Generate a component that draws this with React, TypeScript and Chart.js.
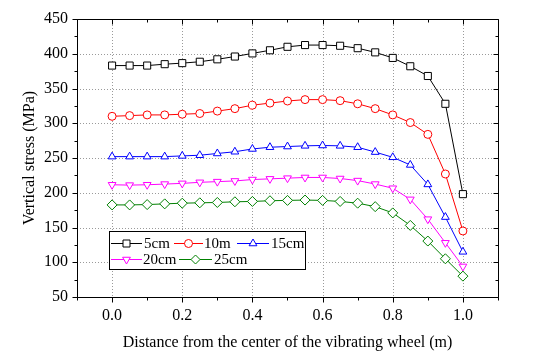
import React, { useEffect, useRef } from 'react';
import { Chart, registerables } from 'chart.js';
Chart.register(...registerables);

const xValues = [0, 0.05, 0.1, 0.15, 0.2, 0.25, 0.3, 0.35, 0.4, 0.45, 0.5, 0.55, 0.6, 0.65, 0.7, 0.75, 0.8, 0.85, 0.9, 0.95, 1.0];
const s5cm = [383, 383, 383, 385, 386.5, 388.5, 392, 396, 400.5, 405, 410, 412.5, 412.5, 411.5, 408, 402, 394, 382, 368, 328, 198];
const s10m = [310, 311, 312, 312, 313, 314, 317.5, 321, 326, 329, 332, 334, 334, 332.5, 328, 321, 312, 301, 284, 227, 145];
const s15cm = [252, 252, 252, 252, 253, 254, 256.5, 259, 263, 265.5, 266.5, 267.5, 268, 267.5, 265.5, 258.5, 251, 240, 212, 165, 115];
const s20cm = [211.5, 211, 211.5, 212.5, 213.5, 215, 216, 217, 219, 220, 221, 222, 222, 220.5, 217.5, 212.5, 206.5, 190.5, 162, 128, 94];
const s25cm = [182.5, 182.5, 183, 184, 185, 185.5, 186, 187, 187.5, 188.5, 189, 189.5, 189, 187.5, 185, 180, 171, 153, 130.5, 105, 80];
const seriesLabels = ['5cm', '10m', '15cm', '20cm', '25cm'];
const xTicks = [0, 0.2, 0.4, 0.6, 0.8, 1.0];
const xMinorTicks = [-0.1, 0.1, 0.3, 0.5, 0.7, 0.9, 1.1];
const yTicks = [50, 100, 150, 200, 250, 300, 350, 400, 450];
const yMinorTicks = [75, 125, 175, 225, 275, 325, 375, 425];
const xTitle = 'Distance from the center of the vibrating wheel (m)';
const yTitle = 'Vertical stress (MPa)';

const FONT = '"Liberation Serif", "Times New Roman", serif';
const colors = ['#000000', '#ff0000', '#0000ff', '#ff00ff', '#008000'];
const styles: any[] = ['rect', 'circle', 'triangle', 'triangle', 'rectRot'];
const rotations = [0, 0, 0, 180, 0];
const radii = [5, 4, 4.5, 4.5, 5];
const seriesData = [s5cm, s10m, s15cm, s20cm, s25cm];

function drawMarker(ctx: CanvasRenderingContext2D, kind: number, x: number, y: number, color: string) {
  ctx.save();
  ctx.strokeStyle = color;
  ctx.fillStyle = '#ffffff';
  ctx.lineWidth = 1;
  ctx.beginPath();
  if (kind === 0) {
    const s = 3.5;
    ctx.rect(x - s, y - s, 2 * s, 2 * s);
  } else if (kind === 1) {
    ctx.arc(x, y, 4, 0, Math.PI * 2);
  } else if (kind === 2 || kind === 3) {
    const r = 4.5;
    const dir = kind === 2 ? -1 : 1;
    ctx.moveTo(x, y + dir * r);
    ctx.lineTo(x + r * Math.sin(Math.PI * 2 / 3), y - dir * r * 0.5);
    ctx.lineTo(x - r * Math.sin(Math.PI * 2 / 3), y - dir * r * 0.5);
    ctx.closePath();
  } else {
    const r = 4.5;
    ctx.moveTo(x, y - r);
    ctx.lineTo(x + r, y);
    ctx.lineTo(x, y + r);
    ctx.lineTo(x - r, y);
    ctx.closePath();
  }
  ctx.fill();
  ctx.stroke();
  ctx.restore();
}

const gridPlugin = {
  id: 'gridPlugin',
  beforeDatasetsDraw(chart: any) {
    const { ctx, chartArea: a, scales } = chart;
    ctx.save();
    ctx.strokeStyle = '#9a9a9a';
    ctx.lineWidth = 1;
    ctx.setLineDash([1, 2]);
    xTicks.forEach((v) => {
      const px = Math.round(scales.x.getPixelForValue(v)) + 0.5;
      ctx.beginPath();
      ctx.moveTo(px, a.top);
      ctx.lineTo(px, a.bottom);
      ctx.stroke();
    });
    yTicks.forEach((v) => {
      const py = Math.round(scales.y.getPixelForValue(v)) + 0.5;
      ctx.beginPath();
      ctx.moveTo(a.left, py);
      ctx.lineTo(a.right, py);
      ctx.stroke();
    });
    ctx.restore();
  },
  afterDatasetsDraw(chart: any) {
    const { ctx, chartArea: a, scales } = chart;
    ctx.save();
    ctx.strokeStyle = '#000';
    ctx.lineWidth = 1;
    ctx.setLineDash([]);
    const L = Math.round(a.left) + 0.5;
    const R = Math.round(a.right) + 0.5;
    const T = Math.round(a.top) + 0.5;
    const B = Math.round(a.bottom) + 0.5;
    ctx.beginPath();
    ctx.rect(L, T, R - L, B - T);
    ctx.stroke();
    const tick = (vals: number[], len: number) => {
      vals.forEach((v) => {
        const px = Math.round(scales.x.getPixelForValue(v)) + 0.5;
        ctx.beginPath();
        ctx.moveTo(px, B);
        ctx.lineTo(px, B + len);
        ctx.moveTo(px, T);
        ctx.lineTo(px, T + len);
        ctx.stroke();
      });
    };
    tick(xTicks, 5);
    tick(xMinorTicks, 3);
    const ytick = (vals: number[], len: number) => {
      vals.forEach((v) => {
        const py = Math.round(scales.y.getPixelForValue(v)) + 0.5;
        ctx.beginPath();
        ctx.moveTo(L, py);
        ctx.lineTo(L - len, py);
        ctx.moveTo(R, py);
        ctx.lineTo(R - len, py);
        ctx.stroke();
      });
    };
    ytick(yTicks, 5);
    ytick(yMinorTicks, 3);

    // legend box
    const bx = 109.5, by = 231.5, bw = 196, bh = 38;
    ctx.fillStyle = '#fff';
    ctx.fillRect(bx, by, bw, bh);
    ctx.strokeRect(bx, by, bw, bh);
    const items = [
      { x0: 111, x1: 142, tx: 144, y: 243 },
      { x0: 174, x1: 203, tx: 204, y: 243 },
      { x0: 237, x1: 269, tx: 271, y: 243 },
      { x0: 111, x1: 142, tx: 143, y: 259 },
      { x0: 179, x1: 212, tx: 214, y: 259 },
    ];
    ctx.font = '15px ' + FONT;
    ctx.textBaseline = 'middle';
    ctx.textAlign = 'left';
    items.forEach((it, i) => {
      ctx.strokeStyle = colors[i];
      ctx.beginPath();
      ctx.moveTo(it.x0, it.y + 0.5);
      ctx.lineTo(it.x1, it.y + 0.5);
      ctx.stroke();
      drawMarker(ctx, i, (it.x0 + it.x1) / 2, it.y + 0.5, colors[i]);
      ctx.fillStyle = '#000';
      ctx.fillText(seriesLabels[i], it.tx, it.y + 1);
    });
    ctx.restore();
  },
};

export default function App() {
  const ref = useRef<HTMLCanvasElement>(null);
  useEffect(() => {
    document.body.style.margin = '0';
    const datasets = seriesData.map((d, i) => ({
      label: seriesLabels[i],
      data: d.map((v, j) => ({ x: xValues[j], y: v })),
      borderColor: colors[i],
      backgroundColor: '#ffffff',
      borderWidth: 1,
      pointStyle: styles[i],
      rotation: rotations[i],
      pointRotation: rotations[i],
      pointRadius: radii[i],
      pointBorderWidth: 1,
      pointBorderColor: colors[i],
      pointBackgroundColor: '#ffffff',
      tension: 0,
    }));
    const chart = new Chart(ref.current!, {
      type: 'line',
      data: { datasets },
      plugins: [gridPlugin],
      options: {
        animation: false,
        responsive: false,
        devicePixelRatio: 1,
        layout: { padding: { top: 19, right: 52, left: 0, bottom: 0 } },
        plugins: { legend: { display: false }, tooltip: { enabled: false } },
        scales: {
          x: {
            type: 'linear',
            min: -0.1,
            max: 1.1,
            grid: { display: false, drawTicks: false },
            border: { display: false },
            afterBuildTicks: (s: any) => { s.ticks = xTicks.map((v) => ({ value: v })); },
            afterFit: (s: any) => { s.height = 66; },
            ticks: {
              padding: 9,
              color: '#000',
              font: { family: FONT, size: 16 },
              callback: (v: any) => Number(v).toFixed(1),
              maxRotation: 0,
              autoSkip: false,
            },
            title: { display: true, text: xTitle, color: '#000', font: { family: FONT, size: 16 }, padding: { top: 0, bottom: 11 } },
          },
          y: {
            type: 'linear',
            min: 50,
            max: 450,
            grid: { display: false, drawTicks: false },
            border: { display: false },
            afterBuildTicks: (s: any) => { s.ticks = yTicks.map((v) => ({ value: v })); },
            afterFit: (s: any) => { s.width = 77; },
            ticks: { padding: 9, color: '#000', font: { family: FONT, size: 16 }, autoSkip: false },
            title: { display: true, text: yTitle, color: '#000', font: { family: FONT, size: 16 }, padding: { top: 20, bottom: 0 } },
          },
        },
      },
    });
    return () => chart.destroy();
  }, []);
  return (
    <div style={{ width: 550, height: 363, background: '#fff' }}>
      <canvas ref={ref} width={550} height={363} style={{ display: 'block' }} />
    </div>
  );
}
